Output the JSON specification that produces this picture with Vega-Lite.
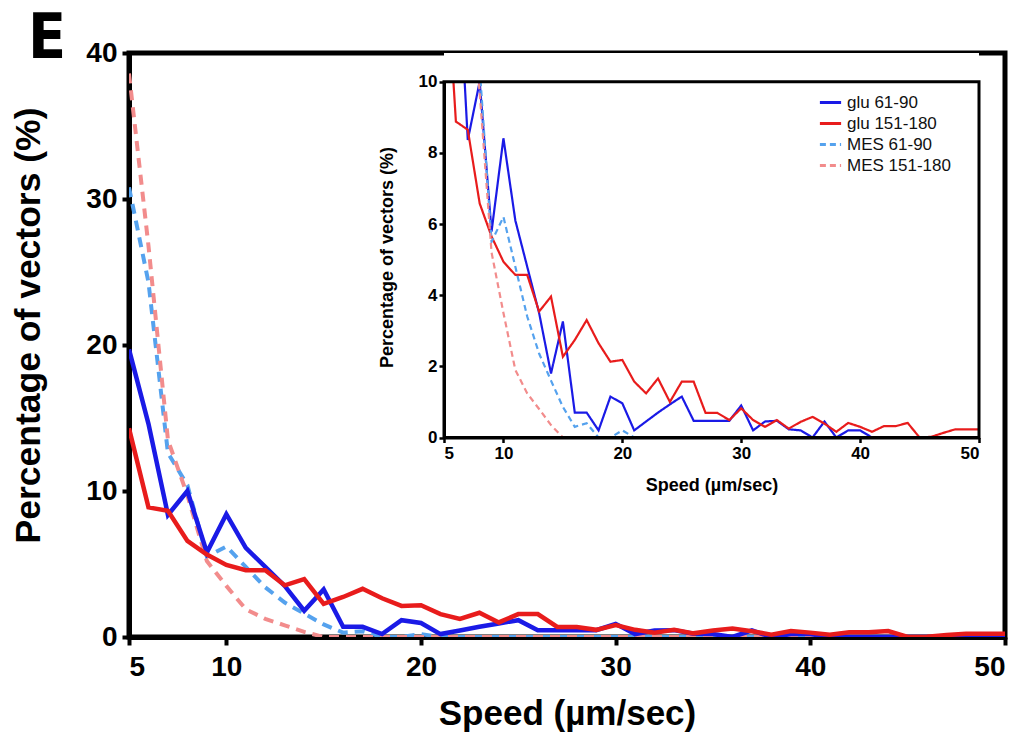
{
  "$schema": "https://vega.github.io/schema/vega-lite/v6.json",
  "width": 876,
  "height": 584,
  "autosize": {"type": "none"},
  "padding": {"left": 129, "top": 53, "right": 21, "bottom": 99},
  "background": "white",
  "title": {"text": "E", "anchor": "start", "frame": "group", "fontSize": 62, "font": "Liberation Sans Narrow, DejaVu Sans Condensed, Liberation Sans", "fontWeight": "bold", "color": "black", "dx": -101, "dy": 32, "offset": 0},
  "config": {
    "view": {"stroke": "black", "strokeWidth": 5},
    "font": "Liberation Sans",
    "axis": {"grid": false, "domainColor": "black", "tickColor": "black", "labelColor": "black", "titleColor": "black", "labelFont": "Liberation Sans", "titleFont": "Liberation Sans", "labelFontWeight": "bold", "titleFontWeight": "bold"}
  },
  "data": {"values": [
    {"speed": 5, "pct": 19.7, "series": "glu 61-90"},
    {"speed": 6, "pct": 14.6, "series": "glu 61-90"},
    {"speed": 7, "pct": 8.36, "series": "glu 61-90"},
    {"speed": 8, "pct": 10.0, "series": "glu 61-90"},
    {"speed": 9, "pct": 5.79, "series": "glu 61-90"},
    {"speed": 10, "pct": 8.41, "series": "glu 61-90"},
    {"speed": 11, "pct": 6.1, "series": "glu 61-90"},
    {"speed": 12, "pct": 4.8, "series": "glu 61-90"},
    {"speed": 13, "pct": 3.5, "series": "glu 61-90"},
    {"speed": 14, "pct": 1.8, "series": "glu 61-90"},
    {"speed": 15, "pct": 3.26, "series": "glu 61-90"},
    {"speed": 16, "pct": 0.7, "series": "glu 61-90"},
    {"speed": 17, "pct": 0.7, "series": "glu 61-90"},
    {"speed": 18, "pct": 0.2, "series": "glu 61-90"},
    {"speed": 19, "pct": 1.15, "series": "glu 61-90"},
    {"speed": 20, "pct": 0.96, "series": "glu 61-90"},
    {"speed": 21, "pct": 0.2, "series": "glu 61-90"},
    {"speed": 22, "pct": 0.45, "series": "glu 61-90"},
    {"speed": 23, "pct": 0.7, "series": "glu 61-90"},
    {"speed": 24, "pct": 0.93, "series": "glu 61-90"},
    {"speed": 25, "pct": 1.15, "series": "glu 61-90"},
    {"speed": 26, "pct": 0.47, "series": "glu 61-90"},
    {"speed": 27, "pct": 0.47, "series": "glu 61-90"},
    {"speed": 28, "pct": 0.47, "series": "glu 61-90"},
    {"speed": 29, "pct": 0.47, "series": "glu 61-90"},
    {"speed": 30, "pct": 0.9, "series": "glu 61-90"},
    {"speed": 31, "pct": 0.2, "series": "glu 61-90"},
    {"speed": 32, "pct": 0.45, "series": "glu 61-90"},
    {"speed": 33, "pct": 0.47, "series": "glu 61-90"},
    {"speed": 34, "pct": 0.23, "series": "glu 61-90"},
    {"speed": 35, "pct": 0.2, "series": "glu 61-90"},
    {"speed": 36, "pct": 0, "series": "glu 61-90"},
    {"speed": 37, "pct": 0.45, "series": "glu 61-90"},
    {"speed": 38, "pct": 0, "series": "glu 61-90"},
    {"speed": 39, "pct": 0.2, "series": "glu 61-90"},
    {"speed": 40, "pct": 0.2, "series": "glu 61-90"},
    {"speed": 41, "pct": 0, "series": "glu 61-90"},
    {"speed": 42, "pct": 0, "series": "glu 61-90"},
    {"speed": 43, "pct": 0, "series": "glu 61-90"},
    {"speed": 44, "pct": 0, "series": "glu 61-90"},
    {"speed": 45, "pct": 0, "series": "glu 61-90"},
    {"speed": 46, "pct": 0, "series": "glu 61-90"},
    {"speed": 47, "pct": 0, "series": "glu 61-90"},
    {"speed": 48, "pct": 0, "series": "glu 61-90"},
    {"speed": 49, "pct": 0, "series": "glu 61-90"},
    {"speed": 50, "pct": 0, "series": "glu 61-90"},
    {"speed": 5, "pct": 14.3, "series": "glu 151-180"},
    {"speed": 6, "pct": 8.88, "series": "glu 151-180"},
    {"speed": 7, "pct": 8.65, "series": "glu 151-180"},
    {"speed": 8, "pct": 6.58, "series": "glu 151-180"},
    {"speed": 9, "pct": 5.65, "series": "glu 151-180"},
    {"speed": 10, "pct": 4.94, "series": "glu 151-180"},
    {"speed": 11, "pct": 4.57, "series": "glu 151-180"},
    {"speed": 12, "pct": 4.57, "series": "glu 151-180"},
    {"speed": 13, "pct": 3.54, "series": "glu 151-180"},
    {"speed": 14, "pct": 3.96, "series": "glu 151-180"},
    {"speed": 15, "pct": 2.27, "series": "glu 151-180"},
    {"speed": 16, "pct": 2.74, "series": "glu 151-180"},
    {"speed": 17, "pct": 3.3, "series": "glu 151-180"},
    {"speed": 18, "pct": 2.65, "series": "glu 151-180"},
    {"speed": 19, "pct": 2.13, "series": "glu 151-180"},
    {"speed": 20, "pct": 2.18, "series": "glu 151-180"},
    {"speed": 21, "pct": 1.57, "series": "glu 151-180"},
    {"speed": 22, "pct": 1.24, "series": "glu 151-180"},
    {"speed": 23, "pct": 1.66, "series": "glu 151-180"},
    {"speed": 24, "pct": 1.0, "series": "glu 151-180"},
    {"speed": 25, "pct": 1.57, "series": "glu 151-180"},
    {"speed": 26, "pct": 1.57, "series": "glu 151-180"},
    {"speed": 27, "pct": 0.69, "series": "glu 151-180"},
    {"speed": 28, "pct": 0.69, "series": "glu 151-180"},
    {"speed": 29, "pct": 0.49, "series": "glu 151-180"},
    {"speed": 30, "pct": 0.82, "series": "glu 151-180"},
    {"speed": 31, "pct": 0.49, "series": "glu 151-180"},
    {"speed": 32, "pct": 0.3, "series": "glu 151-180"},
    {"speed": 33, "pct": 0.49, "series": "glu 151-180"},
    {"speed": 34, "pct": 0.25, "series": "glu 151-180"},
    {"speed": 35, "pct": 0.44, "series": "glu 151-180"},
    {"speed": 36, "pct": 0.58, "series": "glu 151-180"},
    {"speed": 37, "pct": 0.39, "series": "glu 151-180"},
    {"speed": 38, "pct": 0.16, "series": "glu 151-180"},
    {"speed": 39, "pct": 0.41, "series": "glu 151-180"},
    {"speed": 40, "pct": 0.3, "series": "glu 151-180"},
    {"speed": 41, "pct": 0.16, "series": "glu 151-180"},
    {"speed": 42, "pct": 0.32, "series": "glu 151-180"},
    {"speed": 43, "pct": 0.32, "series": "glu 151-180"},
    {"speed": 44, "pct": 0.41, "series": "glu 151-180"},
    {"speed": 45, "pct": 0, "series": "glu 151-180"},
    {"speed": 46, "pct": 0.02, "series": "glu 151-180"},
    {"speed": 47, "pct": 0.13, "series": "glu 151-180"},
    {"speed": 48, "pct": 0.23, "series": "glu 151-180"},
    {"speed": 49, "pct": 0.23, "series": "glu 151-180"},
    {"speed": 50, "pct": 0.23, "series": "glu 151-180"},
    {"speed": 5, "pct": 30.8, "series": "MES 61-90"},
    {"speed": 6, "pct": 24.3, "series": "MES 61-90"},
    {"speed": 7, "pct": 12.6, "series": "MES 61-90"},
    {"speed": 8, "pct": 10.4, "series": "MES 61-90"},
    {"speed": 9, "pct": 5.5, "series": "MES 61-90"},
    {"speed": 10, "pct": 6.2, "series": "MES 61-90"},
    {"speed": 11, "pct": 4.8, "series": "MES 61-90"},
    {"speed": 12, "pct": 3.4, "series": "MES 61-90"},
    {"speed": 13, "pct": 2.36, "series": "MES 61-90"},
    {"speed": 14, "pct": 1.6, "series": "MES 61-90"},
    {"speed": 15, "pct": 0.86, "series": "MES 61-90"},
    {"speed": 16, "pct": 0.3, "series": "MES 61-90"},
    {"speed": 17, "pct": 0.4, "series": "MES 61-90"},
    {"speed": 18, "pct": 0, "series": "MES 61-90"},
    {"speed": 19, "pct": 0, "series": "MES 61-90"},
    {"speed": 20, "pct": 0.2, "series": "MES 61-90"},
    {"speed": 21, "pct": 0, "series": "MES 61-90"},
    {"speed": 22, "pct": 0, "series": "MES 61-90"},
    {"speed": 23, "pct": 0, "series": "MES 61-90"},
    {"speed": 24, "pct": 0, "series": "MES 61-90"},
    {"speed": 25, "pct": 0, "series": "MES 61-90"},
    {"speed": 26, "pct": 0, "series": "MES 61-90"},
    {"speed": 27, "pct": 0, "series": "MES 61-90"},
    {"speed": 28, "pct": 0, "series": "MES 61-90"},
    {"speed": 29, "pct": 0, "series": "MES 61-90"},
    {"speed": 30, "pct": 0, "series": "MES 61-90"},
    {"speed": 31, "pct": 0, "series": "MES 61-90"},
    {"speed": 32, "pct": 0, "series": "MES 61-90"},
    {"speed": 33, "pct": 0, "series": "MES 61-90"},
    {"speed": 34, "pct": 0, "series": "MES 61-90"},
    {"speed": 35, "pct": 0, "series": "MES 61-90"},
    {"speed": 36, "pct": 0, "series": "MES 61-90"},
    {"speed": 37, "pct": 0, "series": "MES 61-90"},
    {"speed": 38, "pct": 0, "series": "MES 61-90"},
    {"speed": 39, "pct": 0, "series": "MES 61-90"},
    {"speed": 40, "pct": 0, "series": "MES 61-90"},
    {"speed": 41, "pct": 0, "series": "MES 61-90"},
    {"speed": 42, "pct": 0, "series": "MES 61-90"},
    {"speed": 43, "pct": 0, "series": "MES 61-90"},
    {"speed": 44, "pct": 0, "series": "MES 61-90"},
    {"speed": 45, "pct": 0, "series": "MES 61-90"},
    {"speed": 46, "pct": 0, "series": "MES 61-90"},
    {"speed": 47, "pct": 0, "series": "MES 61-90"},
    {"speed": 48, "pct": 0, "series": "MES 61-90"},
    {"speed": 49, "pct": 0, "series": "MES 61-90"},
    {"speed": 50, "pct": 0, "series": "MES 61-90"},
    {"speed": 5, "pct": 38.6, "series": "MES 151-180"},
    {"speed": 6, "pct": 26.8, "series": "MES 151-180"},
    {"speed": 7, "pct": 13.5, "series": "MES 151-180"},
    {"speed": 8, "pct": 9.7, "series": "MES 151-180"},
    {"speed": 9, "pct": 5.2, "series": "MES 151-180"},
    {"speed": 10, "pct": 3.5, "series": "MES 151-180"},
    {"speed": 11, "pct": 1.9, "series": "MES 151-180"},
    {"speed": 12, "pct": 1.24, "series": "MES 151-180"},
    {"speed": 13, "pct": 0.8, "series": "MES 151-180"},
    {"speed": 14, "pct": 0.35, "series": "MES 151-180"},
    {"speed": 15, "pct": 0, "series": "MES 151-180"},
    {"speed": 16, "pct": 0, "series": "MES 151-180"},
    {"speed": 17, "pct": 0, "series": "MES 151-180"},
    {"speed": 18, "pct": 0, "series": "MES 151-180"},
    {"speed": 19, "pct": 0, "series": "MES 151-180"},
    {"speed": 20, "pct": 0, "series": "MES 151-180"},
    {"speed": 21, "pct": 0, "series": "MES 151-180"},
    {"speed": 22, "pct": 0, "series": "MES 151-180"},
    {"speed": 23, "pct": 0, "series": "MES 151-180"},
    {"speed": 24, "pct": 0, "series": "MES 151-180"},
    {"speed": 25, "pct": 0, "series": "MES 151-180"},
    {"speed": 26, "pct": 0, "series": "MES 151-180"},
    {"speed": 27, "pct": 0, "series": "MES 151-180"},
    {"speed": 28, "pct": 0, "series": "MES 151-180"},
    {"speed": 29, "pct": 0, "series": "MES 151-180"},
    {"speed": 30, "pct": 0, "series": "MES 151-180"},
    {"speed": 31, "pct": 0, "series": "MES 151-180"},
    {"speed": 32, "pct": 0, "series": "MES 151-180"},
    {"speed": 33, "pct": 0, "series": "MES 151-180"},
    {"speed": 34, "pct": 0, "series": "MES 151-180"},
    {"speed": 35, "pct": 0, "series": "MES 151-180"},
    {"speed": 36, "pct": 0, "series": "MES 151-180"},
    {"speed": 37, "pct": 0, "series": "MES 151-180"},
    {"speed": 38, "pct": 0, "series": "MES 151-180"},
    {"speed": 39, "pct": 0, "series": "MES 151-180"},
    {"speed": 40, "pct": 0, "series": "MES 151-180"},
    {"speed": 41, "pct": 0, "series": "MES 151-180"},
    {"speed": 42, "pct": 0, "series": "MES 151-180"},
    {"speed": 43, "pct": 0, "series": "MES 151-180"},
    {"speed": 44, "pct": 0, "series": "MES 151-180"},
    {"speed": 45, "pct": 0, "series": "MES 151-180"},
    {"speed": 46, "pct": 0, "series": "MES 151-180"},
    {"speed": 47, "pct": 0, "series": "MES 151-180"},
    {"speed": 48, "pct": 0, "series": "MES 151-180"},
    {"speed": 49, "pct": 0, "series": "MES 151-180"},
    {"speed": 50, "pct": 0, "series": "MES 151-180"}
  ]},
  "layer": [
    {
      "encoding": {
        "x": {"field": "speed", "type": "quantitative", "scale": {"domain": [5, 50], "nice": false, "zero": false},
          "axis": {"orient": "bottom", "values": [5, 10, 20, 30, 40, 50], "domainWidth": 5, "tickWidth": 4, "tickSize": 8, "labelPadding": 8, "labelFontSize": 28, "title": "Speed (µm/sec)", "titleFontSize": 35, "titleY": 59}},
        "y": {"field": "pct", "type": "quantitative", "scale": {"domain": [0, 40], "nice": false},
          "axis": {"orient": "left", "values": [0, 10, 20, 30, 40], "domainWidth": 5, "tickWidth": 4, "tickSize": 7, "labelPadding": 5, "labelFontSize": 28, "title": "Percentage of vectors (%)", "titleFontSize": 35.5, "titleX": -83, "titleY": 272}},
        "color": {"field": "series", "type": "nominal",
          "scale": {"domain": ["glu 61-90", "glu 151-180", "MES 61-90", "MES 151-180"], "range": ["#1a1ae6", "#e81c1c", "#55a2ee", "#f28c8c"]},
          "legend": {"title": null, "orient": "none", "legendX": 689, "legendY": 37, "symbolType": "stroke", "symbolSize": 450, "symbolStrokeWidth": 3, "labelFontSize": 17, "labelFont": "Liberation Sans", "labelColor": "#111", "rowPadding": 0}}
      },
      "layer": [
        {"transform": [{"filter": "indexof(datum.series, 'MES') == 0"}], "mark": {"type": "line", "strokeWidth": 4, "strokeDash": [10, 7], "clip": true}},
        {"transform": [{"filter": "indexof(datum.series, 'glu') == 0"}], "mark": {"type": "line", "strokeWidth": 4.5, "clip": true}}
      ]
    },
    {
      "encoding": {
        "x": {"field": "speed", "type": "quantitative", "scale": {"domain": [5, 50], "nice": false, "zero": false, "range": [315, 850]},
          "axis": {"orient": "bottom", "offset": -199.5, "values": [5, 10, 20, 30, 40, 50], "domainWidth": 3, "tickWidth": 2.5, "tickSize": 5, "labelPadding": 3, "labelFontSize": 17, "title": "Speed (µm/sec)", "titleFontSize": 18, "titlePadding": 15}},
        "y": {"field": "pct", "type": "quantitative", "scale": {"domain": [0, 10], "nice": false, "range": [384.5, 28.7]},
          "axis": {"orient": "left", "offset": -315, "values": [0, 2, 4, 6, 8, 10], "domainWidth": 3, "tickWidth": 2.5, "tickSize": 5, "labelPadding": 2, "labelFontSize": 17, "title": "Percentage of vectors (%)", "titleFontSize": 18, "titleX": -48, "titleY": 204}}
      },
      "layer": [
        {"mark": {"type": "line", "strokeWidth": 2.2, "clip": true},
          "encoding": {
            "color": {"field": "series", "type": "nominal",
              "scale": {"domain": ["glu 61-90", "glu 151-180", "MES 61-90", "MES 151-180"], "range": ["#1a1ae6", "#e81c1c", "#55a2ee", "#f28c8c"]},
              "legend": {"title": null, "orient": "none", "legendX": 689, "legendY": 37, "symbolType": "stroke", "symbolSize": 450, "symbolStrokeWidth": 3, "labelFontSize": 17, "labelFont": "Liberation Sans", "labelColor": "#111", "rowPadding": 0}},
            "strokeDash": {"field": "series", "type": "nominal",
              "scale": {"domain": ["glu 61-90", "glu 151-180", "MES 61-90", "MES 151-180"], "range": [[1, 0], [1, 0], [6, 4], [6, 4]]},
              "legend": {"title": null, "orient": "none", "legendX": 689, "legendY": 37, "symbolType": "stroke", "symbolSize": 450, "symbolStrokeWidth": 3, "labelFontSize": 17, "labelFont": "Liberation Sans", "labelColor": "#111", "rowPadding": 0}}
          }},
        {"transform": [
            {"joinaggregate": [{"op": "max", "field": "pct", "as": "top"}, {"op": "min", "field": "speed", "as": "lo"}, {"op": "max", "field": "speed", "as": "hi"}]},
            {"filter": "datum.pct <= 10"},
            {"aggregate": [{"op": "max", "field": "pct", "as": "lim"}, {"op": "max", "field": "top", "as": "top"}, {"op": "min", "field": "lo", "as": "lo"}, {"op": "max", "field": "hi", "as": "hi"}]}
          ],
          "mark": {"type": "rect", "fill": "white", "clip": true},
          "encoding": {
            "x": {"field": "lo", "type": "quantitative"},
            "x2": {"field": "hi"},
            "y": {"field": "lim", "type": "quantitative"},
            "y2": {"field": "top"}
          }},
        {"transform": [
            {"joinaggregate": [{"op": "min", "field": "speed", "as": "lo"}, {"op": "max", "field": "speed", "as": "hi"}, {"op": "min", "field": "pct", "as": "bottom"}]},
            {"filter": "datum.pct <= 10"},
            {"aggregate": [{"op": "max", "field": "pct", "as": "lim"}, {"op": "min", "field": "bottom", "as": "bottom"}, {"op": "min", "field": "lo", "as": "lo"}, {"op": "max", "field": "hi", "as": "hi"}]}
          ],
          "mark": {"type": "rect", "fillOpacity": 0, "stroke": "black", "strokeWidth": 3, "strokeOpacity": 1},
          "encoding": {
            "x": {"field": "lo", "type": "quantitative"},
            "x2": {"field": "hi"},
            "y": {"field": "bottom", "type": "quantitative"},
            "y2": {"field": "lim"}
          }}
      ]
    }
  ],
  "resolve": {"scale": {"x": "independent", "y": "independent"}, "axis": {"x": "independent", "y": "independent"}}
}
